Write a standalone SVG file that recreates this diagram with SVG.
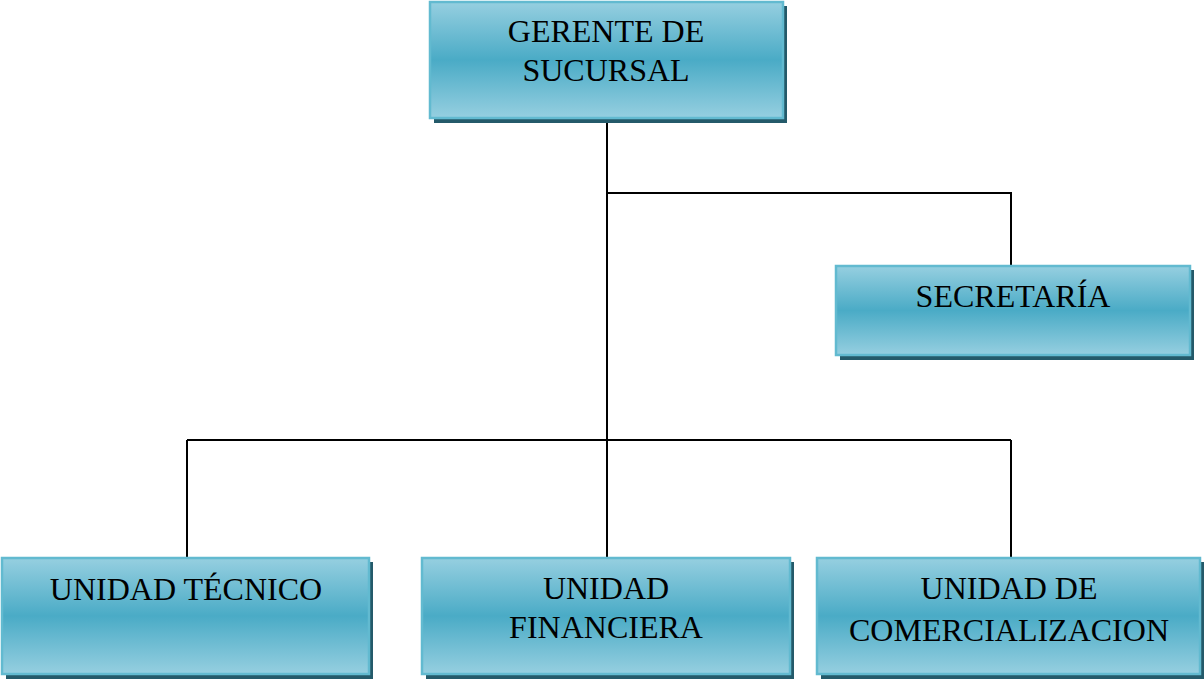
<svg xmlns="http://www.w3.org/2000/svg" width="1204" height="681" viewBox="0 0 1204 681">
<defs>
<linearGradient id="g" x1="0" y1="0" x2="0" y2="1">
<stop offset="0" stop-color="#96cfe0"/>
<stop offset="0.5" stop-color="#4aabc6"/>
<stop offset="1" stop-color="#96cfe0"/>
</linearGradient>
</defs>
<style>
.sh{fill:#245a6a}
.bx{fill:url(#g);stroke:#62bad0;stroke-width:2.5}
.t{font-family:"Liberation Serif","Times New Roman",serif;font-size:32px;fill:#000;text-anchor:middle}
.c{fill:none;stroke:#000;stroke-width:2}
</style>
<g id="connectors">
<path class="c" d="M607 118V558"/>
<path class="c" d="M607 193H1011V266"/>
<path class="c" d="M187 440H1011"/>
<path class="c" d="M187 440V558"/>
<path class="c" d="M1011 440V558"/>
</g>
<g id="gerente">
<rect class="sh" x="434" y="6" width="353" height="117"/>
<rect class="bx" x="430" y="2" width="353" height="116"/>
<text class="t" x="606" y="42">GERENTE DE</text>
<text class="t" x="606" y="81">SUCURSAL</text>
</g>
<g id="secretaria">
<rect class="sh" x="840" y="270" width="354" height="90"/>
<rect class="bx" x="836" y="266" width="354" height="89"/>
<text class="t" x="1013" y="307">SECRETARÍA</text>
</g>
<g id="tecnico">
<rect class="sh" x="6" y="562" width="367" height="117"/>
<rect class="bx" x="2" y="558" width="367" height="116"/>
<text class="t" x="186" y="600">UNIDAD TÉCNICO</text>
</g>
<g id="financiera">
<rect class="sh" x="426" y="562" width="368" height="117"/>
<rect class="bx" x="422" y="558" width="368" height="116"/>
<text class="t" x="606" y="599">UNIDAD</text>
<text class="t" x="606" y="638">FINANCIERA</text>
</g>
<g id="comercializacion">
<rect class="sh" x="821" y="562" width="383" height="117"/>
<rect class="bx" x="817" y="558" width="383" height="116"/>
<text class="t" x="1009" y="599">UNIDAD DE</text>
<text class="t" x="1009" y="641">COMERCIALIZACION</text>
</g>
</svg>
